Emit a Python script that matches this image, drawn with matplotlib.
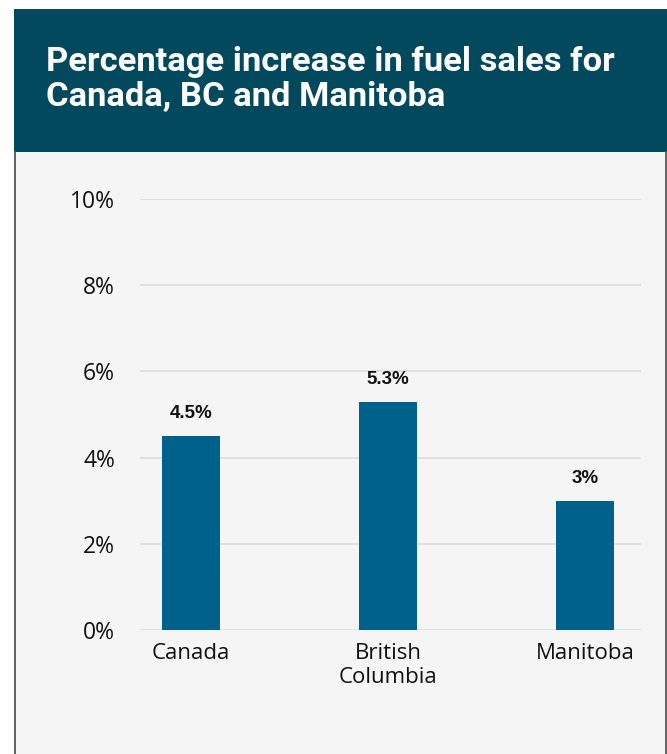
import matplotlib.pyplot as plt
from matplotlib.patches import Rectangle

categories = ["Canada", "British\nColumbia", "Manitoba"]
values = [4.5, 5.3, 3.0]
value_labels = ["4.5%", "5.3%", "3%"]
yticks = [0, 2, 4, 6, 8, 10]

header_color = "#03495e"
bar_color = "#00628a"
panel_color = "#f5f5f5"

W, H = 667, 754
fig = plt.figure(figsize=(W / 100, H / 100), dpi=100)
fig.patch.set_facecolor("white")

# background layer in pixel coordinates (y down)
bg = fig.add_axes([0, 0, 1, 1], zorder=-1)
bg.set_xlim(0, W)
bg.set_ylim(H, 0)
bg.axis("off")
bg.add_patch(Rectangle((14, 152), 651, H - 152, facecolor=panel_color, edgecolor="none"))
bg.plot([14.5, 14.5], [152, H], color="#555555", lw=1.3)
bg.plot([665.5, 665.5], [152, H], color="#555555", lw=1.3)
bg.add_patch(Rectangle((14, 9), W - 14, 143, facecolor=header_color, edgecolor="none"))
bg.text(46, 79, "Percentage increase in fuel sales for\nCanada, BC and Manitoba",
        color="white", fontsize=24.8, fontweight="bold", family="Roboto",
        va="center", ha="left", linespacing=1.12)

ax = fig.add_axes([140 / W, (H - 630) / H, (641 - 140) / W, (630 - 199) / H])
ax.set_facecolor("none")

x = list(range(len(categories)))
ax.bar(x, values, width=0.295, color=bar_color, zorder=3)
for xi, v, lab in zip(x, values, value_labels):
    ax.annotate(lab, (xi, v), xytext=(0, 10), textcoords="offset points",
                ha="center", va="bottom", fontsize=13.5, fontweight="bold",
                family="Liberation Sans", color="#111111")

ax.set_xlim(-0.26, 2.285)
ax.set_ylim(0, 10)
ax.set_yticks(yticks)
ax.set_yticklabels([f"{t}%" for t in yticks], family="Open Sans", fontsize=16.5, color="#111111")
ax.set_xticks(x)
ax.set_xticklabels(categories, family="Open Sans", fontsize=16, color="#111111",
                   linespacing=1.15)
ax.grid(axis="y", color="#dcdcdc", lw=1.2, zorder=0)
ax.tick_params(axis="y", length=0, pad=18)
ax.tick_params(axis="x", length=0, pad=9.5)
for s in ax.spines.values():
    s.set_visible(False)

fig.savefig("out.png", dpi=100)
